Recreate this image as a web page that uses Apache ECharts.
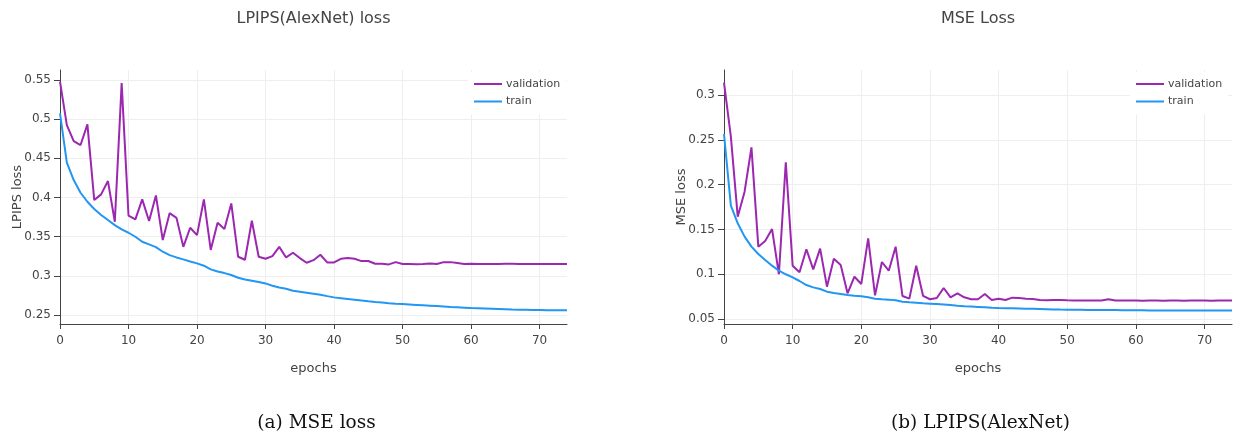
<!DOCTYPE html>
<html>
<head>
<meta charset="utf-8">
<script src="https://cdn.jsdelivr.net/npm/echarts@6/dist/echarts.min.js"></script>
<style>
html,body{margin:0;padding:0;background:#fff;}
#chart{width:1240px;height:436px;}
</style>
</head>
<body>
<div id="chart"></div>
<script>
// ---- data ----
const lpipsValidation = [
0.548, 0.4925, 0.472, 0.467, 0.4934, 0.3967, 0.404, 0.421, 0.369, 0.546,
0.377, 0.372, 0.3976, 0.370, 0.4027, 0.3457, 0.380, 0.374, 0.337, 0.3614,
0.352, 0.3976, 0.333, 0.3678, 0.3597, 0.3925, 0.3244, 0.3205, 0.3704, 0.3244,
0.3218, 0.3252, 0.337, 0.3235, 0.3295, 0.3227, 0.3167, 0.3200, 0.3269, 0.3171,
0.3171, 0.3218, 0.3227, 0.3218, 0.3188, 0.319, 0.3154, 0.3154, 0.3146, 0.3175,
0.315, 0.315, 0.3149, 0.315, 0.3158, 0.315, 0.3175, 0.3175, 0.3163, 0.315,
0.3154, 0.3152, 0.315, 0.3151, 0.3152, 0.3153, 0.3154, 0.3152, 0.3151, 0.3152,
0.3152, 0.3151, 0.3152, 0.3152, 0.3152
];
const lpipsTrain = [
0.5074, 0.4444, 0.4223, 0.4061, 0.3946, 0.3853, 0.3776, 0.3712, 0.3648, 0.3593,
0.3550, 0.3499, 0.3435, 0.3401, 0.3367, 0.3308, 0.3265, 0.3235, 0.3210, 0.3184,
0.3159, 0.3129, 0.3082, 0.3056, 0.3035, 0.3010, 0.2976, 0.2954, 0.2937, 0.2920,
0.2903, 0.2873, 0.2852, 0.2835, 0.2810, 0.2797, 0.2784, 0.2771, 0.2758, 0.2741,
0.2725, 0.2715, 0.2705, 0.2695, 0.2685, 0.2675, 0.2666, 0.2658, 0.2650, 0.2644,
0.2639, 0.2634, 0.2629, 0.2624, 0.2619, 0.2614, 0.2609, 0.2603, 0.2598, 0.2593,
0.2588, 0.2585, 0.2582, 0.2579, 0.2576, 0.2573, 0.2570, 0.2568, 0.2566, 0.2564,
0.2563, 0.2562, 0.2561, 0.2560, 0.2559
];
const mseValidation = [
0.3138, 0.2535, 0.1642, 0.1921, 0.2416, 0.1307, 0.1371, 0.1504, 0.0999, 0.2249,
0.1095, 0.1021, 0.1278, 0.1054, 0.1285, 0.0861, 0.1173, 0.1103, 0.0786, 0.0972,
0.0891, 0.1400, 0.0764, 0.1136, 0.1039, 0.1307, 0.0757, 0.0727, 0.1095, 0.0757,
0.0720, 0.0734, 0.0846, 0.0742, 0.0786, 0.0742, 0.0720, 0.0720, 0.0779, 0.0712,
0.0727, 0.0712, 0.0738, 0.0734, 0.0727, 0.0723, 0.0712, 0.0708, 0.0712, 0.0712,
0.0708, 0.0706, 0.0705, 0.0705, 0.0705, 0.0706, 0.0720, 0.0706, 0.0705, 0.0705,
0.0705, 0.0704, 0.0705, 0.0705, 0.0704, 0.0705, 0.0705, 0.0704, 0.0705, 0.0705,
0.0705, 0.0704, 0.0705, 0.0705, 0.0705
];
const mseTrain = [
0.2565, 0.1765, 0.1568, 0.1419, 0.1307, 0.1225, 0.1158, 0.1095, 0.1039, 0.0999,
0.0965, 0.0924, 0.0879, 0.0853, 0.0835, 0.0805, 0.0790, 0.0779, 0.0768, 0.0760,
0.0753, 0.0742, 0.0727, 0.0720, 0.0716, 0.0708, 0.0693, 0.0686, 0.0682, 0.0675,
0.0671, 0.0667, 0.0662, 0.0655, 0.0648, 0.0642, 0.0638, 0.0634, 0.0630, 0.0626,
0.0623, 0.0621, 0.0619, 0.0617, 0.0615, 0.0613, 0.0611, 0.0609, 0.0607, 0.0605,
0.0604, 0.0603, 0.0602, 0.0601, 0.0600, 0.0600, 0.0599, 0.0599, 0.0598, 0.0598,
0.0597, 0.0597, 0.0596, 0.0596, 0.0596, 0.0595, 0.0595, 0.0595, 0.0595, 0.0594,
0.0594, 0.0594, 0.0594, 0.0594, 0.0594
];
const xTicks = [0, 10, 20, 30, 40, 50, 60, 70];
const lpipsTicks = [0.25, 0.3, 0.35, 0.4, 0.45, 0.5, 0.55];
const mseTicks = [0.05, 0.1, 0.15, 0.2, 0.25, 0.3];
const titles = ['LPIPS(AlexNet) loss', 'MSE Loss'];
const yNames = ['LPIPS loss', 'MSE loss'];
const captions = ['(a) MSE loss', '(b) LPIPS(AlexNet)'];
const seriesNames = ['validation', 'train'];

// ---- styling ----
const FONT = 'DejaVu Sans';
const TXT = '#444';
const PURPLE = '#9c27b0';
const BLUE = '#2196f3';

const grids = [
  {left: 60, top: 70, width: 507, height: 254},
  {left: 724, top: 70, width: 508, height: 254}
];
const yRanges = [[0.2385, 0.5628], [0.0444, 0.3279]];
const yTickSets = [lpipsTicks, mseTicks];

function fmt(v){ return String(parseFloat(v.toFixed(4))); }

const option = {
  animation: false,
  backgroundColor: '#fff',
  textStyle: {fontFamily: FONT},
  title: titles.map((t, k) => ({
    text: t,
    left: grids[k].left + grids[k].width / 2,
    top: 11,
    padding: 0,
    textAlign: 'center',
    textStyle: {fontFamily: FONT, fontSize: 16, fontWeight: 'normal', color: TXT}
  })),
  legend: [0, 1].map(k => ({
    orient: 'vertical',
    left: k === 0 ? 468 : 1130,
    top: 72,
    padding: [5, 6, 6, 6],
    itemGap: 3.5,
    itemWidth: 28,
    itemHeight: 2,
    icon: 'rect',
    backgroundColor: '#fff',
    data: seriesNames.map(n => ({name: n + (k ? '\u200b' : '')})),
    formatter: n => n.replace('\u200b', ''),
    textStyle: {fontFamily: FONT, fontSize: 11, lineHeight: 14, color: TXT, padding: [0,0,0,-1]}
  })),
  grid: grids,
  xAxis: [0, 1].map(k => ({
    type: 'value', gridIndex: k, min: 0, max: 74,
    name: 'epochs', nameLocation: 'middle', nameGap: 38, nameMoveOverlap: false,
    nameTextStyle: {fontFamily: FONT, fontSize: 13, color: TXT},
    axisLine: {show: true, onZero: false, lineStyle: {color: TXT, width: 1}},
    axisTick: {show: true, inside: false, length: 5, lineStyle: {color: TXT}, customValues: xTicks},
    axisLabel: {color: TXT, fontFamily: FONT, fontSize: 12, margin: 10.5, customValues: xTicks},
    splitLine: {show: true, lineStyle: {color: '#eeeeee', width: 1}}
  })),
  yAxis: [0, 1].map(k => ({
    type: 'value', gridIndex: k, min: yRanges[k][0], max: yRanges[k][1],
    name: yNames[k], nameLocation: 'middle', nameGap: 36, nameMoveOverlap: false,
    nameTextStyle: {fontFamily: FONT, fontSize: 13, color: TXT},
    axisLine: {show: true, onZero: false, lineStyle: {color: TXT, width: 1}},
    axisTick: {show: true, inside: false, length: 6, lineStyle: {color: TXT}, customValues: yTickSets[k]},
    axisLabel: {color: TXT, fontFamily: FONT, fontSize: 12, margin: 9, customValues: yTickSets[k], formatter: v => fmt(v)},
    splitLine: {show: true, lineStyle: {color: '#eeeeee', width: 1}}
  })),
  series: [
    {name: 'validation', type: 'line', xAxisIndex: 0, yAxisIndex: 0, symbol: 'none', color: PURPLE, lineStyle: {width: 2, color: PURPLE}, data: lpipsValidation.map((v, i) => [i, v])},
    {name: 'train', type: 'line', xAxisIndex: 0, yAxisIndex: 0, symbol: 'none', color: BLUE, lineStyle: {width: 2, color: BLUE}, data: lpipsTrain.map((v, i) => [i, v])},
    {name: 'validation\u200b', type: 'line', xAxisIndex: 1, yAxisIndex: 1, symbol: 'none', color: PURPLE, lineStyle: {width: 2, color: PURPLE}, data: mseValidation.map((v, i) => [i, v])},
    {name: 'train\u200b', type: 'line', xAxisIndex: 1, yAxisIndex: 1, symbol: 'none', color: BLUE, lineStyle: {width: 2, color: BLUE}, data: mseTrain.map((v, i) => [i, v])}
  ],
  graphic: captions.map((c, k) => ({
    type: 'text',
    x: k === 0 ? 316.5 : 980.5,
    y: 423,
    style: {text: c, fontFamily: 'DejaVu Serif', fontSize: 18.5, fill: '#111', textAlign: 'center', textVerticalAlign: 'middle'}
  }))
};

const chart = echarts.init(document.getElementById('chart'), null, {renderer: 'canvas'});
chart.setOption(option);
</script>
</body>
</html>
